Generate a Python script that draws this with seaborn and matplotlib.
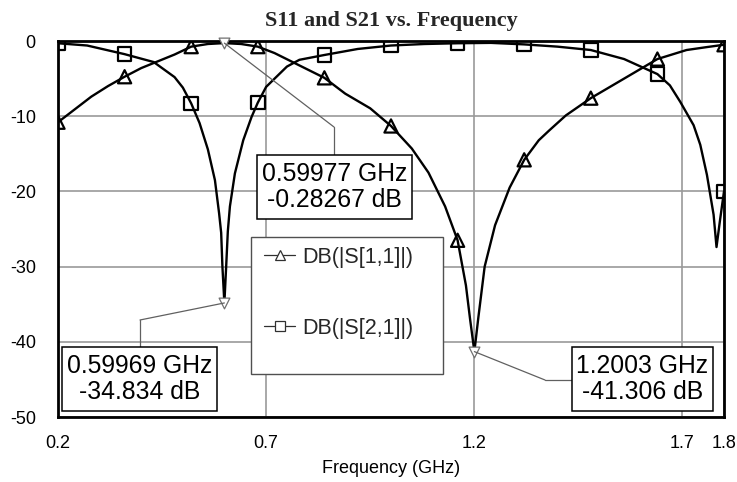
import numpy as np
import pandas as pd
import matplotlib
matplotlib.use("Agg")
import matplotlib.pyplot as plt
from matplotlib.patches import Rectangle
from matplotlib.lines import Line2D
import seaborn as sns

# ---------------- data ----------------
s11_freq = [0.20, 0.24, 0.28, 0.32, 0.36, 0.40, 0.44, 0.48, 0.52, 0.56, 0.60, 0.64,
            0.68, 0.72, 0.76, 0.80, 0.84, 0.89, 0.95, 1.00, 1.05, 1.09, 1.13, 1.16,
            1.18, 1.19, 1.2003, 1.21, 1.225, 1.25, 1.285, 1.32, 1.355, 1.38, 1.42,
            1.48, 1.56, 1.64, 1.71, 1.76, 1.80]
s11_db = [-10.8, -9.1, -7.4, -6.0, -4.75, -3.6, -2.7, -1.8, -0.75, -0.4, -0.28, -0.4,
          -0.75, -1.6, -2.7, -3.8, -4.9, -7.0, -8.95, -11.3, -14.3, -17.5, -22.0, -26.5,
          -32.5, -37.0, -41.306, -36.7, -30.0, -24.5, -19.5, -15.8, -13.2, -11.9, -9.9,
          -7.6, -5.0, -2.4, -1.2, -0.8, -0.5]

s21_freq = [0.20, 0.27, 0.36, 0.43, 0.48, 0.50, 0.52, 0.54, 0.56, 0.577, 0.587, 0.592,
            0.595, 0.59969, 0.604, 0.608, 0.613, 0.625, 0.645, 0.665, 0.68, 0.70, 0.75,
            0.78, 0.84, 0.92, 1.00, 1.08, 1.16, 1.24, 1.32, 1.40, 1.48, 1.56, 1.64,
            1.67, 1.695, 1.727, 1.743, 1.759, 1.775, 1.782, 1.79, 1.80]
s21_db = [-0.3, -0.6, -1.75, -2.8, -4.8, -6.2, -8.3, -10.9, -14.4, -18.5, -22.9, -25.5,
          -30.0, -34.834, -30.0, -25.3, -22.0, -17.6, -13.2, -10.1, -8.2, -6.1, -3.4,
          -2.5, -1.86, -1.06, -0.6, -0.4, -0.3, -0.25, -0.45, -0.75, -1.2, -2.4, -4.4,
          -5.9, -8.1, -11.2, -13.8, -17.8, -23.1, -27.4, -24.0, -20.0]

symbol_freq = [0.20, 0.36, 0.52, 0.68, 0.84, 1.00, 1.16, 1.32, 1.48, 1.64, 1.80]

marker_freq = [0.59977, 0.59969, 1.2003]
marker_db = [-0.28267, -34.834, -41.306]

series_labels = ["DB(|S[1,1]|)", "DB(|S[2,1]|)"]
x_ticks = [0.2, 0.7, 1.2, 1.7, 1.8]
y_ticks = [-50, -40, -30, -20, -10, 0]
title_text = "S11 and S21 vs. Frequency"
xlabel_text = "Frequency (GHz)"

# ---------------- figure ----------------
sns.set_style("white")
plt.rcParams["font.family"] = ["Liberation Sans", "DejaVu Sans"]

W, H = 737, 482
fig = plt.figure(figsize=(W / 100, H / 100), dpi=100)
L, R, T, B = 58, 724, 41, 417          # axes box in pixels
ax = fig.add_axes([L / W, 1 - B / H, (R - L) / W, (B - T) / H])


def af(px, py):
    """pixel position -> axes fraction"""
    return (px - L) / (R - L), (B - py) / (B - T)


df11 = pd.DataFrame({"freq": s11_freq, "db": s11_db})
df21 = pd.DataFrame({"freq": s21_freq, "db": s21_db})

sns.lineplot(data=df11, x="freq", y="db", color="black", lw=1.7,
             estimator=None, ax=ax, zorder=3)
sns.lineplot(data=df21, x="freq", y="db", color="black", lw=1.7,
             estimator=None, ax=ax, zorder=3)

sym11 = df11[np.isclose(df11["freq"].values[:, None], symbol_freq).any(axis=1)]
sym21 = df21[np.isclose(df21["freq"].values[:, None], symbol_freq).any(axis=1)]
sns.scatterplot(data=sym11, x="freq", y="db", marker="^", s=90,
                facecolor="none", edgecolor="black", linewidth=1.6, ax=ax, zorder=4)
sns.scatterplot(data=sym21, x="freq", y="db", marker="s", s=95,
                facecolor="none", edgecolor="black", linewidth=1.6, ax=ax, zorder=4)

ax.set_xlim(0.2, 1.8)
ax.set_ylim(-50, 0)
ax.set_xticks(x_ticks)
ax.set_xticklabels([f"{t:g}" for t in x_ticks])
ax.set_yticks(y_ticks)
ax.set_yticklabels([f"{t:g}" for t in y_ticks])
ax.tick_params(axis="both", length=0, labelsize=13, colors="black")
ax.tick_params(axis="x", pad=13)
ax.tick_params(axis="y", pad=16)
ax.grid(True, color="#9a9a9a", lw=1.2, zorder=0)
ax.set_axisbelow(True)
for sp in ax.spines.values():
    sp.set_color("black")
    sp.set_linewidth(2.0)
    sp.set_zorder(5)

ax.set_xlabel(xlabel_text, fontsize=13, labelpad=6, color="black")
ax.set_ylabel("")
ax.set_title(title_text, fontsize=16, fontweight="bold",
             family=["Liberation Serif", "DejaVu Serif"], pad=11)

# ---------------- legend box ----------------
x0, y0 = af(251, 374)
x1, y1 = af(443, 237)
ax.add_patch(Rectangle((x0, y0), x1 - x0, y1 - y0, transform=ax.transAxes,
                       fc="white", ec="#505050", lw=1.0, zorder=6, clip_on=False))
handles = [
    Line2D([], [], color="#303030", lw=0.9, marker="^", ms=7.5, mfc="white",
           mec="#303030", mew=0.9),
    Line2D([], [], color="#303030", lw=0.9, marker="s", ms=7.5, mfc="white",
           mec="#303030", mew=0.9),
]
lx, ly = af(264, 247)
leg = ax.legend(handles, series_labels, loc="upper left", bbox_to_anchor=(lx, ly),
                bbox_transform=ax.transAxes, frameon=False, fontsize=15.5,
                handlelength=1.45, handletextpad=0.33, labelspacing=2.3,
                borderpad=0.0, borderaxespad=0.0)
leg.set_zorder(7)

# ---------------- marker readouts ----------------
ax.scatter(marker_freq, marker_db, marker="v", s=60, facecolor="white",
           edgecolor="#707070", linewidth=0.9, zorder=8, clip_on=False)

boxes = [(257, 155, 412, 219), (62, 347, 217, 411), (572, 347, 713, 411)]
elbows = [((334, 127), (334, 155)), ((140, 320), (140, 347)), ((545, 380), (572, 380))]
for (f, db, box, (e1, e2)) in zip(marker_freq, marker_db, boxes, elbows):
    bx0, by0 = af(box[0], box[3])
    bx1, by1 = af(box[2], box[1])
    ax.add_patch(Rectangle((bx0, by0), bx1 - bx0, by1 - by0, transform=ax.transAxes,
                           fc="white", ec="black", lw=1.1, zorder=9, clip_on=False))
    ax.text((bx0 + bx1) / 2, (by0 + by1) / 2, f"{f:g} GHz\n{db:g} dB",
            transform=ax.transAxes, ha="center", va="center", multialignment="center",
            fontsize=17.8, linespacing=1.1, zorder=10, color="black")
    ex, ey = af(*e1)
    tx, ty = af(*e2)
    ax.annotate("", xy=(f, db), xycoords="data", xytext=(ex, ey),
                textcoords="axes fraction",
                arrowprops=dict(arrowstyle="-", color="#606060", lw=0.9,
                                shrinkA=0, shrinkB=0), zorder=8)
    ax.plot([ex, tx], [ey, ty], transform=ax.transAxes, color="#606060", lw=0.9,
            zorder=8, clip_on=False)

fig.savefig("out.png", dpi=100)
